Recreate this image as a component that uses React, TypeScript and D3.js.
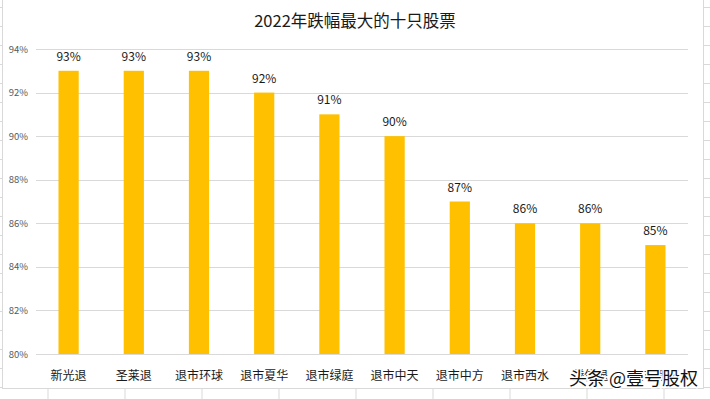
import * as d3 from 'd3';
import { useEffect, useRef } from 'react';

const categories = ['新光退', '圣莱退', '退市环球', '退市夏华', '退市绿庭', '退市中天', '退市中方', '退市西水', '腾信退', '退市新亿'];
const values = [93, 93, 93, 92, 91, 90, 87, 86, 86, 85];
const yTicks = [80, 82, 84, 86, 88, 90, 92, 94];

const W = 710;
const H = 399;
const FONT = '"Noto Sans CJK SC", "Noto Sans", sans-serif';

export default function App() {
  const ref = useRef<SVGSVGElement>(null);

  useEffect(() => {
    if (!ref.current) return;
    const svg = d3.select(ref.current);
    svg.selectAll('*').remove();

    // spreadsheet cells peeking around the chart
    const cellCols = d3.range(48, W, 77);
    const cellRows = d3.range(7, 388, 19);
    svg.append('g')
      .selectAll('line')
      .data(cellCols)
      .join('line')
      .attr('x1', (d) => d).attr('x2', (d) => d)
      .attr('y1', 389).attr('y2', H)
      .attr('stroke', '#d9d9d9');
    svg.append('g')
      .selectAll('line')
      .data(cellRows)
      .join('line')
      .attr('x1', 0).attr('x2', 2)
      .attr('y1', (d) => d + 0.5).attr('y2', (d) => d + 0.5)
      .attr('stroke', '#d9d9d9');
    svg.append('g')
      .selectAll('line')
      .data(cellRows)
      .join('line')
      .attr('x1', 704).attr('x2', W)
      .attr('y1', (d) => d + 0.5).attr('y2', (d) => d + 0.5)
      .attr('stroke', '#d9d9d9');

    // chart frame
    svg.append('rect')
      .attr('x', 2.5).attr('y', -2)
      .attr('width', 701).attr('height', 390.5)
      .attr('fill', '#fff')
      .attr('stroke', '#d9d9d9');

    svg.append('text')
      .text('2022年跌幅最大的十只股票')
      .attr('x', 355).attr('y', 27)
      .attr('text-anchor', 'middle')
      .attr('font-size', 16.5)
      .attr('fill', '#1a1a1a')
      .attr('font-family', FONT);

    const x = d3.scaleBand<string>().domain(categories).range([36, 688]);
    const y = d3.scaleLinear().domain([80, 94]).range([354, 49]);
    const barW = x.bandwidth() * 0.31;

    // grid
    svg.append('g')
      .selectAll('line')
      .data(yTicks)
      .join('line')
      .attr('x1', 36).attr('x2', 688)
      .attr('y1', (d) => Math.round(y(d)) + 0.5)
      .attr('y2', (d) => Math.round(y(d)) + 0.5)
      .attr('stroke', '#d9d9d9');

    svg.append('g')
      .selectAll('text')
      .data(yTicks)
      .join('text')
      .text((d) => `${d}%`)
      .attr('x', 28)
      .attr('y', (d) => y(d) + 3.5)
      .attr('text-anchor', 'end')
      .attr('font-size', 9.5)
      .attr('fill', '#595959')
      .attr('font-family', FONT);

    const data = categories.map((c, i) => ({ c, v: values[i] }));

    svg.append('g')
      .selectAll('rect')
      .data(data)
      .join('rect')
      .attr('x', (d) => (x(d.c) ?? 0) + x.bandwidth() / 2 - barW / 2)
      .attr('y', (d) => y(d.v))
      .attr('width', barW)
      .attr('height', (d) => y(80) - y(d.v))
      .attr('fill', '#ffc000');

    svg.append('g')
      .selectAll('text')
      .data(data)
      .join('text')
      .text((d) => `${d.v}%`)
      .attr('x', (d) => (x(d.c) ?? 0) + x.bandwidth() / 2)
      .attr('y', (d) => y(d.v) - 10)
      .attr('text-anchor', 'middle')
      .attr('font-size', 12)
      .attr('fill', '#1a1a1a')
      .attr('font-family', FONT);

    svg.append('g')
      .selectAll('text')
      .data(data)
      .join('text')
      .text((d) => d.c)
      .attr('x', (d) => (x(d.c) ?? 0) + x.bandwidth() / 2)
      .attr('y', 380)
      .attr('text-anchor', 'middle')
      .attr('font-size', 12)
      .attr('fill', '#1a1a1a')
      .attr('font-family', FONT);

    // watermark
    svg.append('text')
      .text('头条 @壹号股权')
      .attr('x', 569).attr('y', 385)
      .attr('font-size', 18)
      .attr('fill', '#111')
      .attr('stroke', '#fff')
      .attr('stroke-width', 3)
      .attr('paint-order', 'stroke')
      .attr('font-family', FONT);
  }, []);

  return (
    <svg
      ref={ref}
      width={W}
      height={H}
      style={{ position: 'absolute', left: 0, top: 0, background: '#fff' }}
    />
  );
}
